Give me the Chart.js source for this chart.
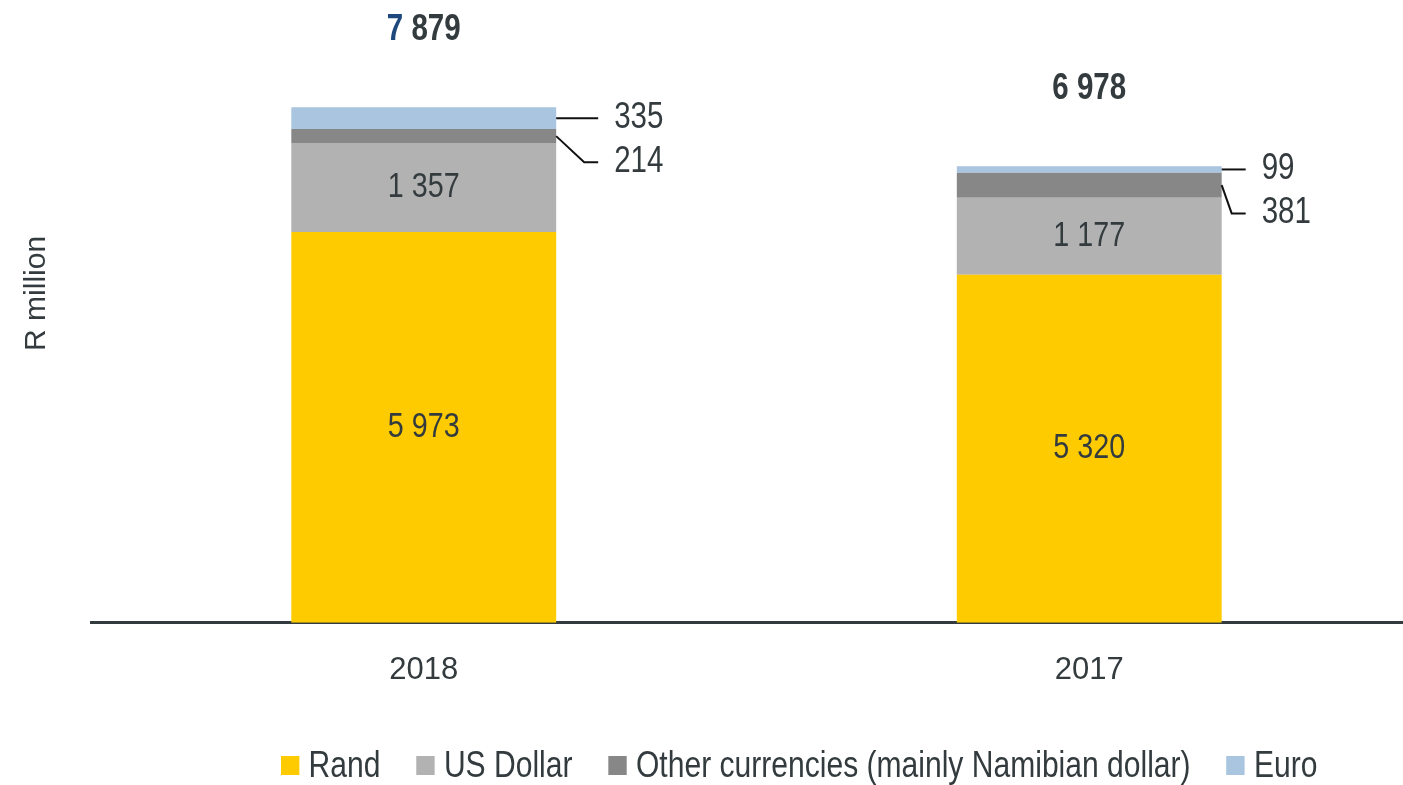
<!DOCTYPE html>
<html>
<head>
<meta charset="utf-8">
<script src="https://cdn.jsdelivr.net/npm/chart.js@4.4.1/dist/chart.umd.min.js"></script>
<style>
  html, body { margin: 0; padding: 0; background: #fff; overflow: hidden; }
  #wrap { position: relative; width: 1422px; height: 785px; overflow: hidden; }
  /* canvas starts above the page so the axis title sits higher, like the original */
  #chart { position: absolute; left: 0; top: -60px; }
  /* no narrow font installed, so the legend is squeezed horizontally */
  #legend {
    position: absolute; left: 281px; top: 744px;
    display: flex; align-items: center;
    font: 36px 'Liberation Sans', Arial, sans-serif; color: #333b3e;
    white-space: nowrap;
    transform: scaleX(0.835); transform-origin: left center;
  }
  .item { display: flex; align-items: center; margin-right: 43px; }
  .box { width: 22px; height: 19px; margin-right: 11px; }
</style>
</head>
<body>
<div id="wrap">
  <canvas id="chart" width="1422" height="845"></canvas>
  <div id="legend"></div>
</div>
<script>
// --- data ---
const categories = ['2018', '2017'];
const rand = [5973, 5320];
const usDollar = [1357, 1177];
const otherCurrencies = [214, 381];
const euro = [335, 99];
const totals = [7879, 6978];

const FONT = "'Liberation Sans', Arial, sans-serif";
const TEXT = '#333b3e';
const BLUE = '#1f497d';
const SQUEEZE = 0.82;
const calloutGap = [58, 40];

const fmt = n => n.toLocaleString('en-US').replace(/,/g, ' ');

// narrow-looking text: scale x only
function narrowText(ctx, text, x, y) {
  ctx.save();
  ctx.translate(x, y);
  ctx.scale(SQUEEZE, 1);
  ctx.fillText(text, 0, 0);
  ctx.restore();
}

const datasets = [
  { label: 'Rand', data: rand, backgroundColor: '#fdcb00' },
  { label: 'US Dollar', data: usDollar, backgroundColor: '#b2b2b2' },
  { label: 'Other currencies (mainly Namibian dollar)', data: otherCurrencies, backgroundColor: '#878787' },
  { label: 'Euro', data: euro, backgroundColor: '#a9c5e0' }
];

// labels, callouts and totals
const labelPlugin = {
  id: 'barLabels',
  afterDatasetsDraw(chart) {
    const ctx = chart.ctx;
    ctx.save();
    ctx.textBaseline = 'middle';
    ctx.fillStyle = TEXT;

    // values inside the big segments
    ctx.textAlign = 'center';
    ctx.font = `35px ${FONT}`;
    [0, 1].forEach(di => {
      chart.getDatasetMeta(di).data.forEach((bar, i) => {
        narrowText(ctx, fmt(chart.data.datasets[di].data[i]), bar.x, (bar.y + bar.base) / 2);
      });
    });

    // small segments get callouts on the right
    const otherMeta = chart.getDatasetMeta(2);
    const euroMeta = chart.getDatasetMeta(3);
    ctx.font = `36px ${FONT}`;
    ctx.textAlign = 'left';
    ctx.strokeStyle = '#111';
    ctx.lineWidth = 2;
    categories.forEach((c, i) => {
      const eb = euroMeta.data[i], ob = otherMeta.data[i];
      const right = eb.x + eb.width / 2;
      const tx = right + calloutGap[i];
      const eCenter = (eb.y + eb.base) / 2;
      const oCenter = (ob.y + ob.base) / 2;
      const ey = eCenter;
      const oy = ey + 44;

      ctx.beginPath();
      ctx.moveTo(right, eCenter);
      ctx.lineTo(tx - 30, ey);
      ctx.lineTo(tx - 16, ey);
      ctx.stroke();
      narrowText(ctx, fmt(euro[i]), tx, ey);

      ctx.beginPath();
      ctx.moveTo(right, oCenter);
      ctx.lineTo(tx - 30, oy);
      ctx.lineTo(tx - 16, oy);
      ctx.stroke();
      narrowText(ctx, fmt(otherCurrencies[i]), tx, oy);
    });

    // totals above the stacks
    ctx.font = `bold 36px ${FONT}`;
    ctx.textAlign = 'left';
    categories.forEach((c, i) => {
      const top = euroMeta.data[i].y;
      const x = euroMeta.data[i].x;
      const parts = fmt(totals[i]).split(' ');
      const head = parts[0];
      const tail = ' ' + parts.slice(1).join(' ');
      const w = ctx.measureText(head + tail).width * SQUEEZE;
      const x0 = x - w / 2;
      const y = top - 77;
      ctx.fillStyle = i === 0 ? BLUE : TEXT;
      narrowText(ctx, head, x0, y);
      ctx.fillStyle = TEXT;
      narrowText(ctx, tail, x0 + ctx.measureText(head).width * SQUEEZE, y);
    });
    ctx.restore();
  }
};

new Chart(document.getElementById('chart'), {
  type: 'bar',
  data: { labels: categories, datasets },
  options: {
    responsive: false,
    animation: false,
    layout: { padding: { top: 24, bottom: 67, left: 0, right: 0 } },
    datasets: { bar: { categoryPercentage: 1, barPercentage: 0.398 } },
    scales: {
      x: {
        stacked: true,
        grid: { display: false, drawTicks: false },
        border: { display: true, color: TEXT, width: 3 },
        ticks: { color: TEXT, font: { family: FONT, size: 31 }, padding: 29 }
      },
      y: {
        stacked: true,
        min: 0,
        max: 10067,
        grid: { display: false, drawTicks: false },
        border: { display: false },
        ticks: { display: false },
        title: {
          display: true, text: 'R million', color: TEXT,
          font: { family: FONT, size: 30 },
          padding: { top: 19, bottom: 36 }
        }
      }
    },
    plugins: { legend: { display: false }, tooltip: { enabled: false } }
  },
  plugins: [labelPlugin]
});

// legend below the chart
const legend = document.getElementById('legend');
datasets.forEach(ds => {
  const item = document.createElement('div');
  item.className = 'item';
  const box = document.createElement('span');
  box.className = 'box';
  box.style.background = ds.backgroundColor;
  const txt = document.createElement('span');
  txt.textContent = ds.label;
  item.appendChild(box);
  item.appendChild(txt);
  legend.appendChild(item);
});
</script>
</body>
</html>
